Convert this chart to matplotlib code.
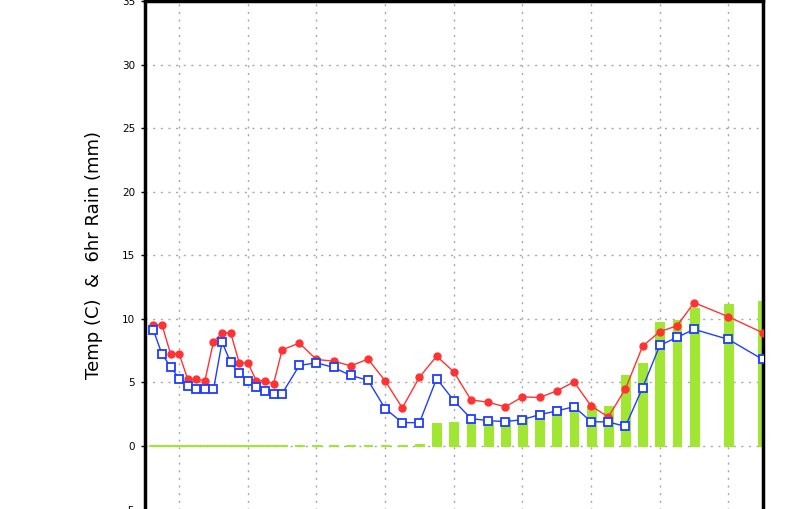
import matplotlib
matplotlib.use("Agg")
import matplotlib.pyplot as plt


# hours from the first day gridline
hours = [-9, -6, -3, 0, 3, 6, 9, 12, 15, 18, 21, 24, 27, 30, 33, 36,
         42, 48, 54, 60, 66, 72, 78, 84, 90, 96, 102, 108, 114, 120, 126,
         132, 138, 144, 150, 156, 162, 168, 174, 180, 192, 204]

temp = [9.54, 9.54, 7.26, 7.26, 5.26, 5.26, 5.13, 8.2, 8.91, 8.91, 6.55, 6.55,
        5.13, 5.13, 4.89, 7.57, 8.1, 6.81, 6.68, 6.31, 6.84, 5.13, 3.0, 5.42,
        7.07, 5.84, 3.63, 3.45, 3.08, 3.87, 3.82, 4.34, 5.05, 3.15, 2.29, 4.5,
        7.86, 9.0, 9.46, 11.28, 10.17, 8.91]

dewpoint = [9.12, 7.23, 6.23, 5.31, 4.73, 4.45, 4.45, 4.45, 8.18, 6.58, 5.73,
            5.13, 4.68, 4.31, 4.13, 4.13, 6.34, 6.55, 6.18, 5.55, 5.18, 2.95,
            1.84, 1.84, 5.31, 3.58, 2.16, 2.0, 1.92, 2.08, 2.47, 2.76, 3.1,
            1.92, 1.89, 1.55, 4.6, 7.92, 8.55, 9.18, 8.39, 6.81]

rain = [0.1] * 23 + [0.2, 1.79, 1.87, 1.9, 1.9, 2.18, 2.34, 2.81, 3.13, 3.13,
                     3.13, 3.13, 5.58, 6.52, 9.76, 9.92, 10.87, 11.18, 11.4]

y_ticks = [-5, 0, 5, 10, 15, 20, 25, 30, 35]
day_ticks = [0, 24, 48, 72, 96, 120, 144, 168, 192]


def main() -> None:
    fig = plt.figure(figsize=(8.0, 5.09), dpi=100)
    ax = fig.add_axes([0.181, -0.0012, 0.7725, 0.999])

    ax.bar(hours, rain, width=3.1, color="#a2e634", edgecolor="#a2e634",
           linewidth=0.8, zorder=2)
    ax.plot(hours, temp, color="#ff3333", lw=1.0, marker="o", ms=5,
            mec="#ff3333", mfc="#ff3333", zorder=4)
    ax.plot(hours, dewpoint, color="#1f3dff", lw=1.0, marker="s", ms=5.5,
            mec="#1f3dff", mfc="white", mew=1.3, zorder=5)

    ax.set_xlim(-12, 204)
    ax.set_ylim(-5, 35)
    ax.set_xticks(day_ticks)
    ax.set_xticklabels([])
    ax.set_yticks(y_ticks)
    ax.tick_params(axis="y", direction="out", length=3, width=1, labelsize=7.5, pad=4)
    ax.tick_params(axis="x", length=0)

    ax.grid(True, color="#a8a8a8", lw=1.0, linestyle=(0, (1.5, 4)), zorder=0)
    ax.set_axisbelow(True)

    for side in ["left", "right", "top"]:
        ax.spines[side].set_linewidth(2.5)
        ax.spines[side].set_color("black")
    ax.spines["bottom"].set_visible(False)

    ax.set_ylabel("Temp (C)  &  6hr Rain (mm)", fontsize=13, labelpad=12)

    fig.savefig("out.png", dpi=100)
    plt.close(fig)


if __name__ == "__main__":
    main()
